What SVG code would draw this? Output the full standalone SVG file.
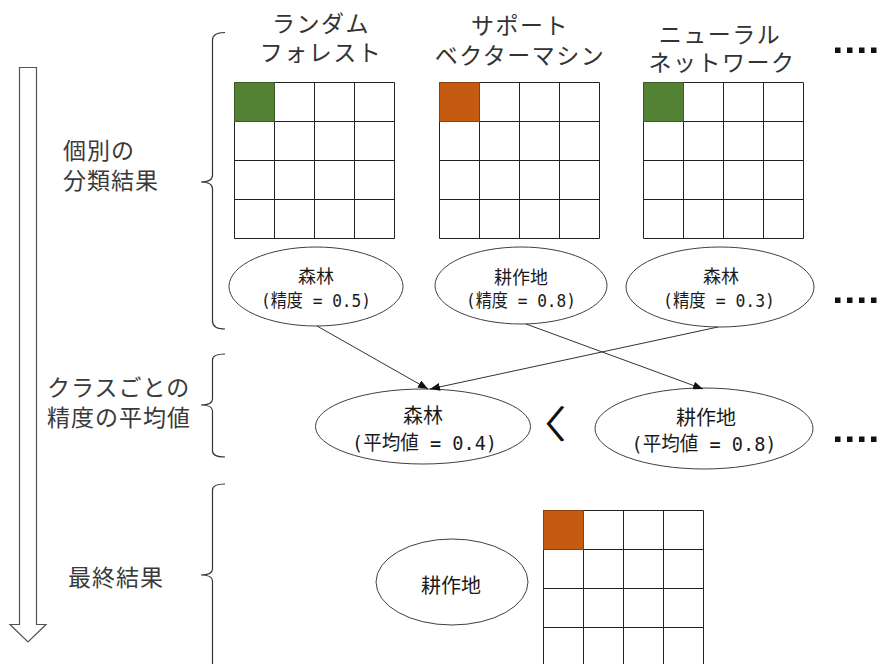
<svg xmlns="http://www.w3.org/2000/svg" xmlns:xlink="http://www.w3.org/1999/xlink" width="881" height="664" viewBox="0 0 881 664">
<style>
.title{font-family:"Liberation Sans","Noto Sans CJK JP",sans-serif;font-size:23px;letter-spacing:1.5px;fill:#333;text-anchor:middle}
.label{font-family:"Liberation Sans","Noto Sans CJK JP",sans-serif;font-size:23px;letter-spacing:1px;fill:#3a3a3a}
.et{font-family:"DejaVu Sans Mono","Noto Sans CJK JP",monospace;fill:#1a1a1a;text-anchor:middle}
.s18{font-size:18px}
.s20{font-size:20px}
.ell{fill:#fff;stroke:#404040;stroke-width:1}
.gl{stroke:#222;stroke-width:1;fill:none}
.brace{fill:none;stroke:#333;stroke-width:1.2}
.conn{stroke:#333;stroke-width:1;fill:none;marker-end:url(#ah)}
.dot{fill:#111}
.green{fill:#548235;stroke:#3a5a25;stroke-width:1}
.orange{fill:#C55A11;stroke:#8a3f0c;stroke-width:1}
</style>
<defs>
<g id="grid">
<rect x="0" y="0" width="160" height="156" fill="#fff"/>
<path class="gl" d="M0,0V156M40,0V156M80,0V156M120,0V156M160,0V156M0,0H160M0,39H160M0,78H160M0,117H160M0,156H160"/>
</g>
<marker id="ah" viewBox="0 0 10 8" refX="10" refY="4" markerWidth="10" markerHeight="8" markerUnits="userSpaceOnUse" orient="auto">
<path d="M0,0L10,4L0,8z" fill="#111"/>
</marker>
</defs>
<rect width="881" height="664" fill="#fff"/>

<g id="flow-arrow">
<path d="M19.5,67.5H36.5V624.5H46L28,642L10,624.5H19.5Z" fill="#fff" stroke="#555" stroke-width="1.2"/>
</g>

<g id="braces">
<path class="brace" d="M225,32.5Q212.5,32.5 212.5,40V175Q212.5,182 201,182Q212.5,182 212.5,189V321Q212.5,329 225,329"/>
<path class="brace" d="M225,354Q212.5,354 212.5,360V399Q212.5,405 201,405Q212.5,405 212.5,411V451Q212.5,457 225,457"/>
<path class="brace" d="M225,484Q212.5,484 212.5,490V569Q212.5,575 201,575Q212.5,575 212.5,581V670"/>
</g>

<g id="stage-labels">
<text class="label"><tspan x="63" y="159">個別の</tspan><tspan x="63" y="189">分類結果</tspan></text>
<text class="label"><tspan x="47" y="396">クラスごとの</tspan><tspan x="47" y="426">精度の平均値</tspan></text>
<text class="label" x="68" y="586">最終結果</text>
</g>

<g id="random-forest">
<text class="title"><tspan x="321" y="32">ランダム</tspan><tspan x="321" y="61">フォレスト</tspan></text>
<use xlink:href="#grid" x="234.5" y="82.5"/>
<rect class="green" x="234.5" y="82.5" width="40" height="39"/>
</g>

<g id="svm">
<text class="title"><tspan x="520" y="34">サポート</tspan><tspan x="520" y="64">ベクターマシン</tspan></text>
<use xlink:href="#grid" x="439.5" y="82.5"/>
<rect class="orange" x="439.5" y="82.5" width="40" height="39"/>
</g>

<g id="neural-network">
<text class="title"><tspan x="720" y="43">ニューラル</tspan><tspan x="722" y="71">ネットワーク</tspan></text>
<use xlink:href="#grid" x="643.5" y="82.5"/>
<rect class="green" x="643.5" y="82.5" width="40" height="39"/>
</g>

<g id="res-rf">
<ellipse class="ell" cx="316" cy="286.5" rx="87" ry="39.5"/>
<text class="et s18" x="316" y="283">森林</text>
<text class="et s18" x="316" y="307" textLength="110" lengthAdjust="spacingAndGlyphs">(精度 = 0.5)</text>
</g>

<g id="res-svm">
<ellipse class="ell" cx="521" cy="285.5" rx="86" ry="38.5"/>
<text class="et s18" x="521" y="284">耕作地</text>
<text class="et s18" x="521" y="307" textLength="110" lengthAdjust="spacingAndGlyphs">(精度 = 0.8)</text>
</g>

<g id="res-nn">
<ellipse class="ell" cx="720" cy="287" rx="94" ry="40"/>
<text class="et s18" x="721" y="283">森林</text>
<text class="et s18" x="719" y="307" textLength="112" lengthAdjust="spacingAndGlyphs">(精度 = 0.3)</text>
</g>

<g id="avg-forest">
<ellipse class="ell" cx="423" cy="426.5" rx="107.5" ry="37.5"/>
<text class="et s20" x="423" y="423">森林</text>
<text class="et s20" x="424.5" y="450" textLength="145" lengthAdjust="spacingAndGlyphs">(平均値 = 0.4)</text>
</g>

<g id="less-than">
<text transform="translate(548,0) scale(1.3,1)" x="-23.5" y="438" font-family="Noto Sans CJK JP, sans-serif" font-size="38" fill="#111">〈</text>
</g>

<g id="avg-cropland">
<ellipse class="ell" cx="704" cy="428.5" rx="109" ry="40.5"/>
<text class="et s20" x="706" y="425">耕作地</text>
<text class="et s20" x="704" y="451" textLength="145" lengthAdjust="spacingAndGlyphs">(平均値 = 0.8)</text>
</g>

<g id="final-label">
<ellipse class="ell" cx="452" cy="582" rx="76" ry="43"/>
<text class="et s20" x="451" y="593">耕作地</text>
</g>

<g id="final-grid">
<use xlink:href="#grid" x="543.5" y="510.5"/>
<rect class="orange" x="543.5" y="510.5" width="40" height="39"/>
</g>

<g id="ellipsis">
<rect class="dot" x="835" y="47.5" width="5.5" height="5.5"/>
<rect class="dot" x="847" y="47.5" width="5.5" height="5.5"/>
<rect class="dot" x="859" y="47.5" width="5.5" height="5.5"/>
<rect class="dot" x="871" y="47.5" width="5.5" height="5.5"/>
<rect class="dot" x="835" y="297.5" width="5.5" height="5.5"/>
<rect class="dot" x="847" y="297.5" width="5.5" height="5.5"/>
<rect class="dot" x="859" y="297.5" width="5.5" height="5.5"/>
<rect class="dot" x="871" y="297.5" width="5.5" height="5.5"/>
<rect class="dot" x="835" y="436.5" width="5.5" height="5.5"/>
<rect class="dot" x="847" y="436.5" width="5.5" height="5.5"/>
<rect class="dot" x="859" y="436.5" width="5.5" height="5.5"/>
<rect class="dot" x="871" y="436.5" width="5.5" height="5.5"/>
</g>

<g id="connectors">
<line class="conn" x1="317" y1="326" x2="428" y2="389"/>
<line class="conn" x1="526" y1="324" x2="703" y2="389"/>
<line class="conn" x1="718" y1="327" x2="430" y2="389"/>
</g>
</svg>
